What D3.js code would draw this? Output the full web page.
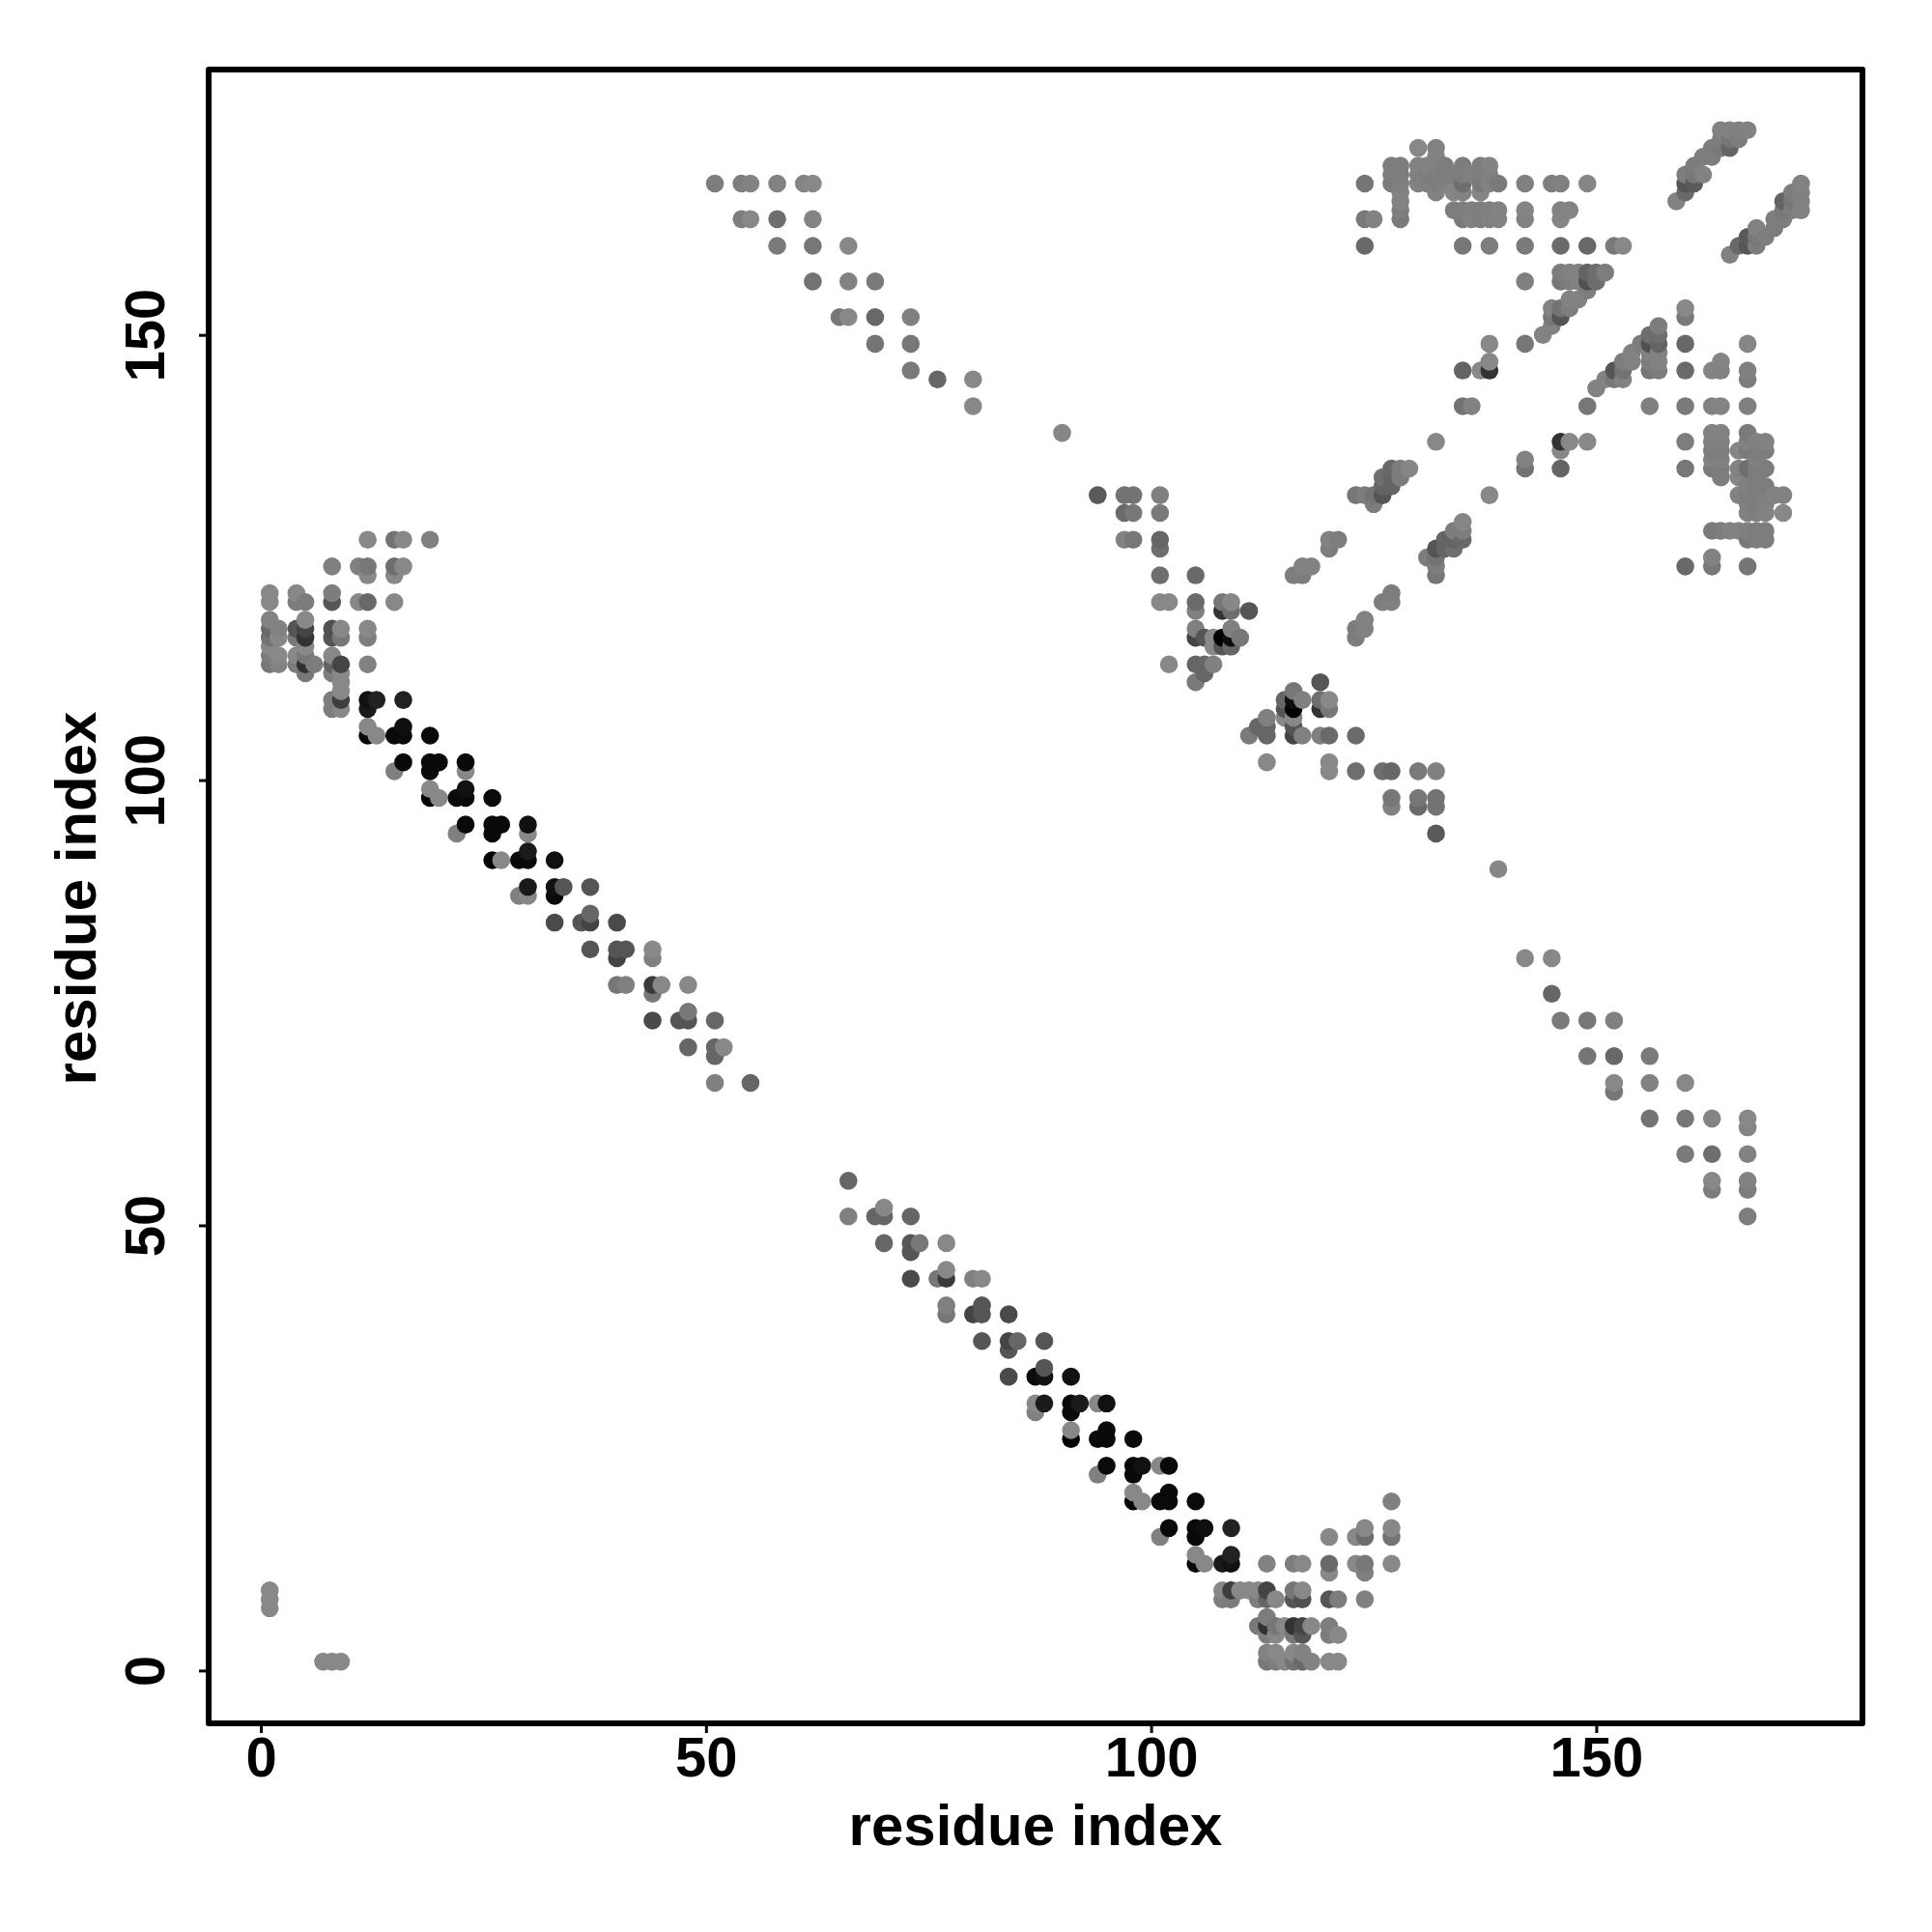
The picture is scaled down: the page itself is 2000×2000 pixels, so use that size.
<!DOCTYPE html>
<html>
<head>
<meta charset="utf-8">
<script src="https://cdn.jsdelivr.net/npm/d3@7/dist/d3.min.js"></script>
<style>html,body{margin:0;padding:0;background:#fff}svg{display:block}</style>
</head>
<body>
<svg id="chart" width="2000" height="2000"></svg>
<script>
const axisTicks = [0, 50, 100, 150];
const xTitle = "residue index";
const yTitle = "residue index";
// contacts: [residue i, residue j, gray level]; the map is symmetric so each pair is drawn both ways
const terminalCorner = [[1,7,136],[1,8,136],[1,9,136]];
const terminalBlock = [
 [1,113,120],[1,114,125],[1,115,136],[1,116,115],[1,117,105],[1,118,130],[1,120,136],[1,121,136],
 [2,113,130],[2,114,136],[2,116,136],[2,117,130],
 [4,113,125],[4,114,136],[4,116,120],[4,117,85],[4,120,125],[4,121,136],
 [5,112,120],[5,113,50],[5,114,119],[5,115,136],[5,116,50],[5,117,68],[5,118,136],[5,120,125],
 [6,113,125],
 [8,108,125],[8,109,125],[8,112,125],[8,113,100],[8,114,136],[8,116,85],[8,117,80],[8,120,85],[8,121,125],[8,124,128],
 [9,108,136],[9,109,62],[9,110,136],[9,111,136],[9,112,136],[9,113,68],[9,116,119],[9,117,136],
 [11,120,136],[11,124,128],
 [12,113,130],[12,116,125],[12,117,136],[12,120,105],[12,123,136],[12,124,120],[12,127,136],
 [15,120,136],[15,123,136],[15,124,110],[15,127,115],
 [16,124,136],[16,127,136],[19,127,128]
];
const longStrand = [
 [12,105,8],[12,106,136],[12,108,26],[12,109,17],[13,105,136],[13,109,34],[15,101,128],[15,105,10],
 [16,102,10],[16,105,10],[16,106,15],[16,109,34],
 [19,98,2],[19,99,136],[19,101,10],[19,102,10],[19,105,10],[20,98,136],[20,102,10],
 [22,94,128],[22,98,10],[23,95,10],[23,98,10],[23,99,17],[23,101,136],[23,102,10],
 [26,91,2],[26,94,10],[26,95,10],[26,98,10],[27,91,136],[27,95,10],
 [29,87,128],[29,91,10],[30,87,136],[30,88,26],[30,91,10],[30,92,26],[30,94,136],[30,95,17],
 [33,84,74],[33,87,10],[33,88,17],[33,91,17],[34,88,85],[36,84,85],
 [37,81,85],[37,84,68],[37,85,102],[37,88,85],
 [40,77,119],[40,80,68],[40,81,85],[40,84,74],[41,77,128],[41,81,85],
 [44,73,74],[44,76,119],[44,77,58],[44,80,128],[44,81,136],[45,77,136],[47,73,85],
 [48,70,102],[48,73,85],[48,74,119],[48,77,136],
 [51,66,128],[51,69,102],[51,70,102],[51,73,102],[52,70,136],[55,66,102]
];
const secondStrand = [
 [51,167,125],[54,167,125],[55,167,130],[58,167,130],[61,167,132],[62,167,136],
 [54,163,125],[55,163,136],[58,163,110],[62,163,132],
 [58,160,122],[62,160,119],[66,160,136],
 [62,156,115],[66,156,130],[69,156,122],
 [65,152,119],[66,152,136],[69,152,104],[73,152,128],
 [69,149,117],[73,149,119],[73,146,122],[76,145,102],[80,145,136],[80,142,136],[90,139,134],
 [94,132,90],[97,132,115],[98,132,115],[101,132,128],
 [97,130,106],[98,130,119],[101,130,122],
 [97,127,130],[98,127,119],[101,127,102],[101,126,110],[101,123,110],[105,123,106]
];
const centralCluster = [
 [101,120,136],[102,120,136],[105,120,106],[108,120,119],[109,120,136],
 [105,119,128],[108,119,51],[109,119,110],[111,119,85],
 [105,117,128],[109,117,128],
 [105,116,68],[106,116,85],[107,116,136],[108,116,0],[109,116,14],[110,116,119],
 [107,115,136],[108,115,85],[109,115,102],
 [102,113,136],[105,113,102],[106,113,102],[107,113,128],[106,112,102],[105,111,122]
];
const parallelBand = [
 [116,123,125],[117,123,125],[117,124,130],[118,124,130],
 [120,126,125],[120,127,130],[121,127,125],
 [123,132,119],[124,132,125],[125,131,125],[125,132,115],[126,132,85],
 [126,133,100],[127,133,100],[126,134,110],[127,134,100],[127,135,105],
 [128,134,125],[128,135,125],[129,135,134],
 [132,138,136],[135,142,115],[136,142,130],
 [135,146,100],[137,146,136],[138,146,50],[138,147,136],[138,149,136],[142,149,119],
 [144,150,130],[145,151,130],[145,152,120],[145,153,130],[146,152,85],[146,153,115],
 [147,153,125],[147,154,130],[148,154,130],[149,155,125],
 [142,156,128],[146,156,118],[147,156,125],[148,156,130],[149,156,80],[150,156,110],
 [146,157,125],[147,157,130],[148,157,130],[149,157,100],[150,157,110],[151,157,125],
 [152,160,122],[153,160,136]
];
const farBand = [
 [159,165,130],[160,166,105],[160,167,85],[161,167,90],[160,168,125],[161,168,120],[162,168,130],
 [161,169,125],[162,170,125],[163,170,125],[163,171,125],[164,171,120],[165,171,100],
 [164,172,125],[165,172,118],[166,172,125],
 [164,173,130],[165,173,130],[166,173,128],[167,173,130]
];
const upperBlock = [
 [124,160,105],[124,163,120],[124,167,118],[125,163,130],
 [127,167,122],[127,168,125],[127,169,125],
 [128,163,122],[128,164,125],[128,165,130],[128,166,130],[128,167,128],[128,168,125],[128,169,125],
 [130,167,130],[130,168,128],[130,169,130],[130,171,136],
 [131,167,128],[131,168,125],[131,169,130],
 [132,166,130],[132,167,125],[132,168,125],[132,169,128],[132,170,130],[132,171,130],
 [133,167,128],[133,168,125],[133,169,125],
 [134,164,125],[134,166,134],[134,168,125],
 [135,160,119],[135,163,122],[135,164,125],[135,166,130],[135,167,110],[135,168,125],[135,169,125],
 [136,163,130],[136,164,128],[136,168,128],
 [137,163,125],[137,164,125],[137,166,134],[137,167,122],[137,168,125],[137,169,125],
 [138,160,125],[138,163,128],[138,164,128],[138,167,130],[138,168,128],[138,169,130],
 [139,163,130],[139,164,130],[139,167,122],
 [142,160,122],[142,163,130],[142,164,132],[142,167,128],
 [145,167,125],[146,160,106],[146,163,132],[146,164,130],[146,167,128],[147,164,132],
 [149,160,104],[149,167,134]
];

const width = 2000, height = 2000;
const x = d3.scaleLinear().domain([-5.86, 179.9]).range([216, 1928]);
const y = d3.scaleLinear().domain([-5.93, 179.8]).range([1784, 72]);
const svg = d3.select("#chart");
const font = "'Liberation Sans', Arial, Helvetica, sans-serif";

const pairs = [terminalCorner, terminalBlock, longStrand, secondStrand, centralCluster, parallelBand, farBand, upperBlock].flat();
const points = pairs.flatMap(([i, j, g]) => [{a: i, b: j, g}, {a: j, b: i, g}])
  .sort((p, q) => d3.ascending(p.a, q.a) || d3.ascending(p.b, q.b));

svg.append("g").selectAll("circle").data(points).join("circle")
  .attr("cx", d => x(d.a)).attr("cy", d => y(d.b)).attr("r", 9.3)
  .attr("fill", d => d3.rgb(d.g, d.g, d.g).formatHex());

svg.append("rect")
  .attr("x", x.range()[0]).attr("y", y.range()[1])
  .attr("width", x.range()[1] - x.range()[0]).attr("height", y.range()[0] - y.range()[1])
  .attr("fill", "none").attr("stroke", "#000").attr("stroke-width", 6).attr("stroke-linejoin", "round");

const xAxis = svg.append("g").attr("transform", `translate(0,${y.range()[0]})`)
  .call(d3.axisBottom(x).tickValues(axisTicks).tickSize(10).tickFormat(d3.format("d")));
const yAxis = svg.append("g").attr("transform", `translate(${x.range()[0]},0)`)
  .call(d3.axisLeft(y).tickValues(axisTicks).tickSize(10).tickFormat(d3.format("d")));
[xAxis, yAxis].forEach(a => {
  a.select(".domain").remove();
  a.selectAll(".tick line").attr("stroke", "#000").attr("stroke-width", 3);
  a.selectAll(".tick text").attr("fill", "#000").style("font-family", font).style("font-weight", "bold").style("font-size", "58px");
});
xAxis.selectAll(".tick text").attr("y", 55).attr("dy", null).attr("text-anchor", "middle");
yAxis.selectAll(".tick text").attr("x", null).attr("dy", null).attr("text-anchor", "middle")
  .attr("transform", "translate(-46,0) rotate(-90)");

svg.append("text").text(xTitle).attr("x", 1072).attr("y", 1910).attr("text-anchor", "middle")
  .style("font-family", font).style("font-weight", "bold").style("font-size", "60px").attr("fill", "#000");
svg.append("text").text(yTitle).attr("text-anchor", "middle")
  .attr("transform", "translate(99,930) rotate(-90)")
  .style("font-family", font).style("font-weight", "bold").style("font-size", "60px").attr("fill", "#000");
</script>
</body>
</html>
